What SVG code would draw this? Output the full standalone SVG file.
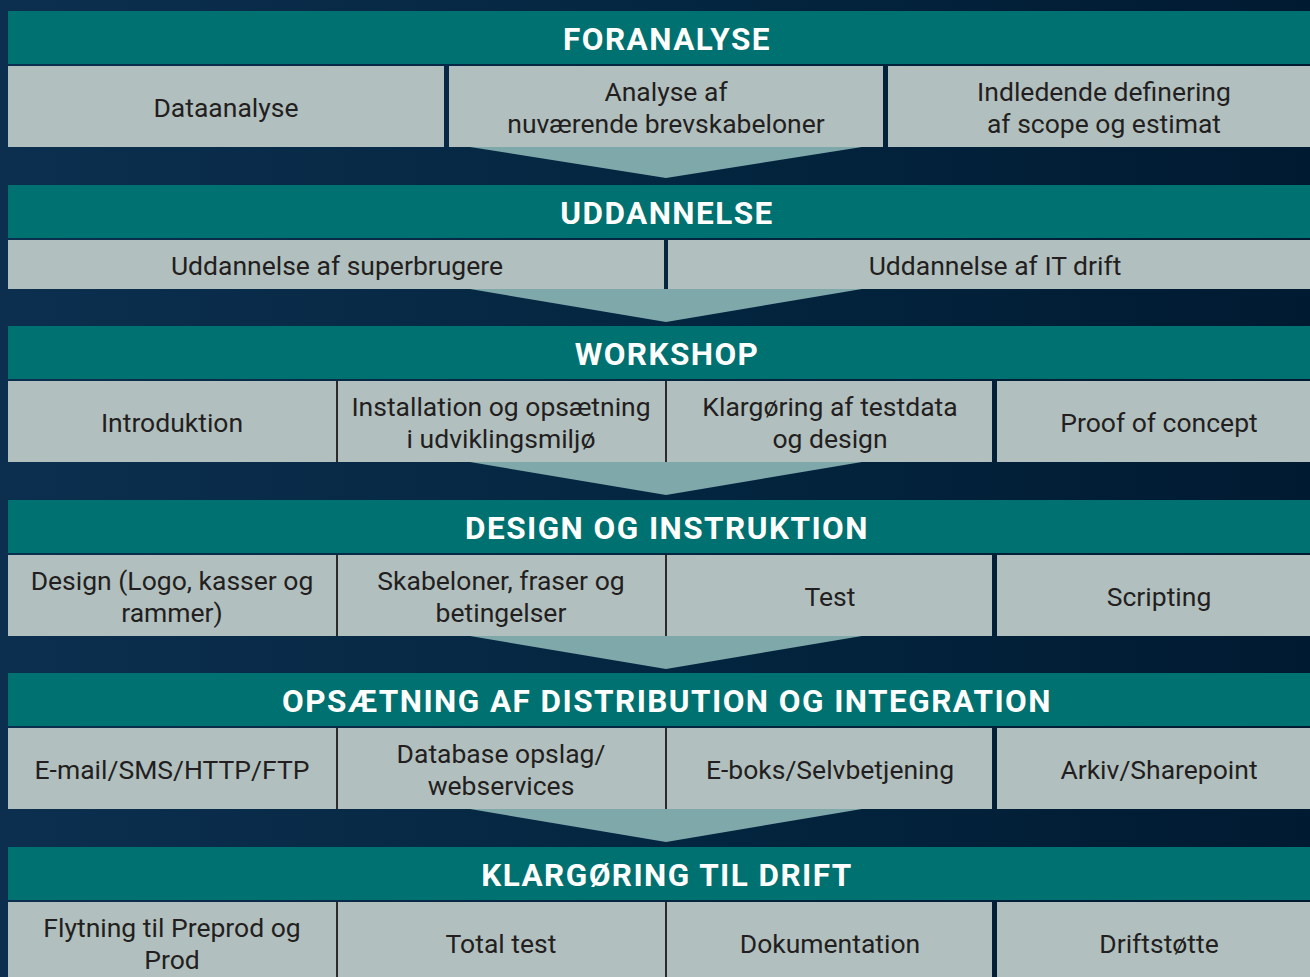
<svg xmlns="http://www.w3.org/2000/svg" width="1310" height="977" viewBox="0 0 1310 977">
<defs>
<linearGradient id="bg" x1="0" y1="0" x2="1" y2="0">
<stop offset="0" stop-color="#0c2f4f"/>
<stop offset="0.5" stop-color="#042640"/>
<stop offset="1" stop-color="#001a31"/>
</linearGradient>
<style>
.hdr{fill:#007171}
.cell{fill:#b2bfbf}
.arrow{fill:#7fa8aa}
.div{fill:#2b2b2b}
.ht{font-family:Roboto,"Liberation Sans",sans-serif;font-weight:bold;font-size:31.5px;letter-spacing:1.45px;fill:#ffffff;text-anchor:middle}
.ct{font-family:Roboto,"Liberation Sans",sans-serif;font-size:26.5px;fill:#231f20;text-anchor:middle}
</style>
</defs>
<rect x="0" y="0" width="1310" height="977" fill="url(#bg)"/>

<g id="connectors">
<polygon class="arrow" points="470,147 862,147 666,178"/>
<polygon class="arrow" points="470,289 862,289 666,322"/>
<polygon class="arrow" points="470,462 862,462 666,495"/>
<polygon class="arrow" points="470,636 862,636 666,669"/>
<polygon class="arrow" points="470,809 862,809 666,842"/>
</g>

<g id="foranalyse">
<rect class="hdr" x="8" y="11" width="1302" height="53"/>
<text class="ht" x="667" y="50">FORANALYSE</text>
</g>
<g id="dataanalyse">
<rect class="cell" x="8" y="66" width="436" height="81"/>
<text class="ct" x="226" y="117">Dataanalyse</text>
</g>
<g id="analyse-brevskabeloner">
<rect class="cell" x="449" y="66" width="434" height="81"/>
<text class="ct" x="666" y="101">Analyse af</text>
<text class="ct" x="666" y="133">nuværende brevskabeloner</text>
</g>
<g id="indledende-definering">
<rect class="cell" x="888" y="66" width="422" height="81"/>
<text class="ct" x="1104" y="101">Indledende definering</text>
<text class="ct" x="1104" y="133">af scope og estimat</text>
</g>

<g id="uddannelse">
<rect class="hdr" x="8" y="185" width="1302" height="53"/>
<text class="ht" x="667" y="224">UDDANNELSE</text>
</g>
<g id="uddannelse-superbrugere">
<rect class="cell" x="8" y="240" width="656" height="49"/>
<text class="ct" x="337" y="275">Uddannelse af superbrugere</text>
</g>
<g id="uddannelse-it-drift">
<rect class="cell" x="668" y="240" width="642" height="49"/>
<text class="ct" x="995" y="275">Uddannelse af IT drift</text>
</g>

<g id="workshop">
<rect class="hdr" x="8" y="326" width="1302" height="53"/>
<text class="ht" x="667" y="365">WORKSHOP</text>
</g>
<g id="introduktion">
<rect class="cell" x="8" y="381" width="328" height="81"/>
<text class="ct" x="172" y="432">Introduktion</text>
</g>
<g id="installation">
<rect class="cell" x="338" y="381" width="327" height="81"/>
<text class="ct" x="501" y="416">Installation og opsætning</text>
<text class="ct" x="501" y="448">i udviklingsmiljø</text>
</g>
<g id="klargoring-testdata">
<rect class="cell" x="667" y="381" width="325" height="81"/>
<text class="ct" x="830" y="416">Klargøring af testdata</text>
<text class="ct" x="830" y="448">og design</text>
</g>
<g id="proof-of-concept">
<rect class="cell" x="997" y="381" width="313" height="81"/>
<text class="ct" x="1159" y="432">Proof of concept</text>
</g>
<rect class="div" x="336" y="381" width="2" height="81"/>
<rect class="div" x="665" y="381" width="2" height="81"/>

<g id="design-og-instruktion">
<rect class="hdr" x="8" y="500" width="1302" height="53"/>
<text class="ht" x="667" y="539">DESIGN OG INSTRUKTION</text>
</g>
<g id="design-logo">
<rect class="cell" x="8" y="555" width="328" height="81"/>
<text class="ct" x="172" y="590">Design (Logo, kasser og</text>
<text class="ct" x="172" y="622">rammer)</text>
</g>
<g id="skabeloner">
<rect class="cell" x="338" y="555" width="327" height="81"/>
<text class="ct" x="501" y="590">Skabeloner, fraser og</text>
<text class="ct" x="501" y="622">betingelser</text>
</g>
<g id="test">
<rect class="cell" x="667" y="555" width="325" height="81"/>
<text class="ct" x="830" y="606">Test</text>
</g>
<g id="scripting">
<rect class="cell" x="997" y="555" width="313" height="81"/>
<text class="ct" x="1159" y="606">Scripting</text>
</g>
<rect class="div" x="336" y="555" width="2" height="81"/>
<rect class="div" x="665" y="555" width="2" height="81"/>

<g id="opsaetning">
<rect class="hdr" x="8" y="673" width="1302" height="53"/>
<text class="ht" x="667" y="712">OPSÆTNING AF DISTRIBUTION OG INTEGRATION</text>
</g>
<g id="email-sms">
<rect class="cell" x="8" y="728" width="328" height="81"/>
<text class="ct" x="172" y="779">E-mail/SMS/HTTP/FTP</text>
</g>
<g id="database-opslag">
<rect class="cell" x="338" y="728" width="327" height="81"/>
<text class="ct" x="501" y="763">Database opslag/</text>
<text class="ct" x="501" y="795">webservices</text>
</g>
<g id="e-boks">
<rect class="cell" x="667" y="728" width="325" height="81"/>
<text class="ct" x="830" y="779">E-boks/Selvbetjening</text>
</g>
<g id="arkiv">
<rect class="cell" x="997" y="728" width="313" height="81"/>
<text class="ct" x="1159" y="779">Arkiv/Sharepoint</text>
</g>
<rect class="div" x="336" y="728" width="2" height="81"/>
<rect class="div" x="665" y="728" width="2" height="81"/>

<g id="klargoring-til-drift">
<rect class="hdr" x="8" y="847" width="1302" height="53"/>
<text class="ht" x="667" y="886">KLARGØRING TIL DRIFT</text>
</g>
<g id="flytning">
<rect class="cell" x="8" y="902" width="328" height="81"/>
<text class="ct" x="172" y="937">Flytning til Preprod og</text>
<text class="ct" x="172" y="969">Prod</text>
</g>
<g id="total-test">
<rect class="cell" x="338" y="902" width="327" height="81"/>
<text class="ct" x="501" y="953">Total test</text>
</g>
<g id="dokumentation">
<rect class="cell" x="667" y="902" width="325" height="81"/>
<text class="ct" x="830" y="953">Dokumentation</text>
</g>
<g id="driftstotte">
<rect class="cell" x="997" y="902" width="313" height="81"/>
<text class="ct" x="1159" y="953">Driftstøtte</text>
</g>
<rect class="div" x="336" y="902" width="2" height="81"/>
<rect class="div" x="665" y="902" width="2" height="81"/>
</svg>
